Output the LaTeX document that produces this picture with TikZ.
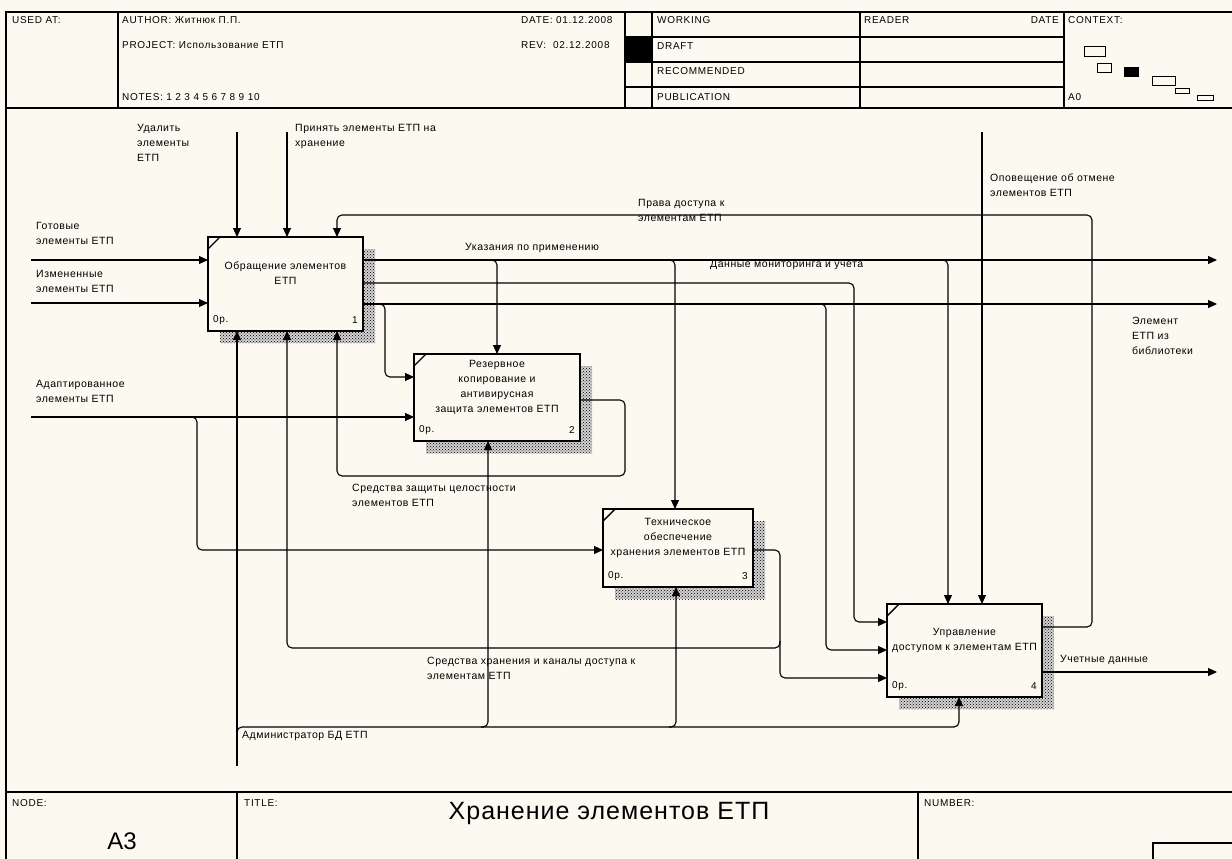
\documentclass[tikz,border=0pt]{standalone}
\usepackage{fontspec}
\setmainfont{Liberation Sans}
\newfontfamily\lblfont[LetterSpace=5]{Liberation Sans}
\newfontfamily\hdrfont[LetterSpace=7]{Liberation Sans}
\newfontfamily\ttlfont[LetterSpace=4]{Liberation Sans}
\usetikzlibrary{arrows.meta,calc,patterns,backgrounds}
\definecolor{bgc}{RGB}{252,250,240}
\tikzset{
 box/.style={draw, line width=2.4pt, fill=bgc, inner sep=0pt, outer sep=0pt},
 conn/.style={line width=1.1pt, rounded corners=5pt},
 arr/.style={conn, -{Triangle[length=9pt,width=8pt]}},
 lbl/.style={font=\lblfont\fontsize{10.5}{15}\selectfont, inner sep=0pt, align=left, anchor=north west},
 btxt/.style={font=\lblfont\fontsize{10.5}{15}\selectfont, inner sep=0pt, align=center, anchor=north},
 hdr/.style={font=\hdrfont\fontsize{10}{11}\selectfont, inner sep=0pt, anchor=west},
 frm/.style={line width=1.2pt},
 shadbase/.style={fill=black!18},
 shad/.style={pattern=crosshatch dots, pattern color=black},
 cmark/.style={line width=1.4pt},
}
\begin{document}
\begin{tikzpicture}[x=1pt,y=-1pt]
\useasboundingbox (0,0) rectangle (1232,859);
% boxes
\node[box, minimum width=155pt, minimum height=94pt] (b1) at (285.5,284) {};
\node[box, minimum width=166pt, minimum height=87pt] (b2) at (497,397.5) {};
\node[box, minimum width=150pt, minimum height=78pt] (b3) at (678,548) {};
\node[box, minimum width=155pt, minimum height=93pt] (b4) at (964.5,650.5) {};
\begin{scope}[on background layer]
\fill[bgc] (0,0) rectangle (1232,859);
\foreach \b in {b1,b2,b3,b4}{
  \fill[shadbase] ($(\b.north west)+(12,12)$) rectangle ($(\b.south east)+(12,12)$);
  \fill[shad] ($(\b.north west)+(12,12)$) rectangle ($(\b.south east)+(12,12)$);
}
\end{scope}
\foreach \b in {b1,b2,b3,b4}{
  \draw[cmark] ($(\b.north west)+(0,12)$) -- ($(\b.north west)+(12,0)$);
}
% box texts
\node[btxt] (b1t) at (285.5,262) {Обращение элементов\\ЕТП};
\node[btxt] (b2t) at (497,360) {Резервное\\копирование и\\антивирусная\\защита элементов ЕТП};
\node[btxt] (b3t) at (678,518) {Техническое\\обеспечение\\хранения элементов ЕТП};
\node[btxt] (b4t) at (964.5,628) {Управление\\доступом к элементам ЕТП};
\node[hdr] (b1c) at ($(b1.south west)+(5,-11)$) {0р.};
\node[hdr, anchor=east] (b1n) at ($(b1.south east)+(-5,-11)$) {1};
\node[hdr] (b2c) at ($(b2.south west)+(5,-11)$) {0р.};
\node[hdr, anchor=east] (b2n) at ($(b2.south east)+(-5,-11)$) {2};
\node[hdr] (b3c) at ($(b3.south west)+(5,-11)$) {0р.};
\node[hdr, anchor=east] (b3n) at ($(b3.south east)+(-5,-11)$) {3};
\node[hdr] (b4c) at ($(b4.south west)+(5,-11)$) {0р.};
\node[hdr, anchor=east] (b4n) at ($(b4.south east)+(-5,-11)$) {4};
% free ends
\coordinate (tUd) at (237,132);
\coordinate (tPr) at (287,132);
\coordinate (tOp) at (982,132);
\coordinate (iGo) at (31,260);
\coordinate (iIz) at (31,303);
\coordinate (iAd) at (31,417);
\coordinate (oUk) at (1217,260);
\coordinate (oEl) at (1217,304);
\coordinate (oUch) at (1217,672);
\coordinate (mAd) at (237,766);
% connectors
\draw[arr] (tUd) -- (tUd |- b1.north);
\draw[arr] (tPr) -- (tPr |- b1.north);
\draw[arr] (tOp) -- (tOp |- b4.north);
\draw[arr] (iGo) -- (iGo -| b1.west);
\draw[arr] (iIz) -- (iIz -| b1.west);
\draw[arr] (iAd) -- (iAd -| b2.west);
\draw[arr] (b1.east |- 0,260) -- (oUk);
\draw[arr] (490,260) -- (497,260) -- (497,0 |- b2.north);
\draw[arr] (668,260) -- (675,260) -- (675,0 |- b3.north);
\draw[arr] (941,260) -- (948,260) -- (948,0 |- b4.north);
\draw[arr] (b1.east |- 0,283) -- (854,283) -- (854,622) -- (b4.west |- 0,622);
\draw[arr] (b1.east |- 0,304) -- (oEl);
\draw[arr] (378,304) -- (385,304) -- (385,377) -- (b2.west |- 0,377);
\draw[arr] (819,304) -- (826,304) -- (826,650) -- (b4.west |- 0,650);
\draw[arr] (190,417) -- (197,417) -- (197,550) -- (b3.west |- 0,550);
\draw[arr] (b2.east |- 0,400) -- (625,400) -- (625,476) -- (337,476) -- (337,0 |- b1.south);
\draw[arr] (b3.east |- 0,550) -- (780,550) -- (780,678) -- (b4.west |- 0,678);
\draw[arr] (780,641) -- (780,648) -- (287,648) -- (287,0 |- b1.south);
\draw[arr] (b4.east |- 0,627) -- (1092,627) -- (1092,215) -- (337,215) -- (337,0 |- b1.north);
\draw[arr] (b4.east |- 0,672) -- (oUch);
\draw[arr] (mAd) -- (237,0 |- b1.south);
\draw[arr] (237,734) -- (237,727) -- (959,727) -- (959,0 |- b4.south);
\draw[arr] (481,727) -- (488,727) -- (488,0 |- b2.south);
\draw[arr] (669,727) -- (676,727) -- (676,0 |- b3.south);
% labels
\node[lbl] (lUd) at (137,124) {Удалить\\элементы\\ЕТП};
\node[lbl] (lPr) at (295,124) {Принять элементы ЕТП на\\хранение};
\node[lbl] (lGo) at (36,222) {Готовые\\элементы ЕТП};
\node[lbl] (lIz) at (36,270) {Измененные\\элементы ЕТП};
\node[lbl] (lAd) at (36,380) {Адаптированное\\элементы ЕТП};
\node[lbl] (lPd) at (638,199) {Права доступа к\\элементам ЕТП};
\node[lbl] (lUk) at (465,243) {Указания по применению};
\node[lbl] (lDm) at (710,260) {Данные мониторинга и учета};
\node[lbl] (lOp) at (990,174) {Оповещение об отмене\\элементов ЕТП};
\node[lbl] (lEl) at (1132,317) {Элемент\\ЕТП из\\библиотеки};
\node[lbl] (lSz) at (352,484) {Средства защиты целостности\\элементов ЕТП};
\node[lbl] (lSh) at (427,657) {Средства хранения и каналы доступа к\\элементам ЕТП};
\node[lbl] (lUch) at (1060,655) {Учетные данные};
\node[lbl] (lAdm) at (242,731) {Администратор БД ЕТП};
% header frame
\draw[frm] (6,859) -- (6,12) -- (1232,12);
\draw[frm] (6,108) -- (1232,108);
\draw[frm] (118,12) -- (118,108);
\draw[frm] (625,12) -- (625,108);
\draw[frm] (652,12) -- (652,108);
\draw[frm] (860,12) -- (860,108);
\draw[frm] (1064,12) -- (1064,108);
\draw[frm] (625,37) -- (1064,37);
\draw[frm] (625,62) -- (1064,62);
\draw[frm] (625,87) -- (1064,87);
\fill (625,37) rectangle (652,62);
\node[hdr] (hU) at (12,20) {USED AT:};
\node[hdr] (hA) at (122,20) {AUTHOR: Житнюк П.П.};
\node[hdr] (hP) at (122,45) {PROJECT: Использование ЕТП};
\node[hdr] (hN) at (122,97) {NOTES: 1 2 3 4 5 6 7 8 9 10};
\node[hdr] (hD) at (521,20) {DATE: 01.12.2008};
\node[hdr] (hR) at (521,45) {REV: \ 02.12.2008};
\node[hdr] (hW) at (657,20) {WORKING};
\node[hdr] (hDr) at (657,46) {DRAFT};
\node[hdr] (hRe) at (657,71) {RECOMMENDED};
\node[hdr] (hPu) at (657,97) {PUBLICATION};
\node[hdr] (hRd) at (864,20) {READER};
\node[hdr, anchor=east] (hDt) at (1059,20) {DATE};
\node[hdr] (hC) at (1068,20) {CONTEXT:};
\node[hdr] (hA0) at (1068,97) {A0};
% context thumbnails
\draw[line width=0.9pt] (1084,46) rectangle (1105,56);
\draw[line width=0.9pt] (1097,63) rectangle (1111,72);
\fill (1124,67) rectangle (1139,77);
\draw[line width=0.9pt] (1152,76) rectangle (1175,85);
\draw[line width=0.9pt] (1175,88) rectangle (1189,93);
\draw[line width=0.9pt] (1197,95) rectangle (1213,100);
% footer
\draw[frm] (6,792) -- (1232,792);
\draw[frm] (237,792) -- (237,859);
\draw[frm] (918,792) -- (918,859);
\draw[frm] (1153,859) -- (1153,843) -- (1232,843);
\node[hdr] (fN) at (12,803) {NODE:};
\node[hdr] (fT) at (244,803) {TITLE:};
\node[hdr] (fNu) at (924,803) {NUMBER:};
\node[font=\ttlfont\fontsize{25}{28}\selectfont, inner sep=0pt, anchor=base] (title) at (609,819) {Хранение элементов ЕТП};
\node[font=\fontsize{24}{28}\selectfont, inner sep=0pt, anchor=base] (nid) at (122,849) {A3};
\end{tikzpicture}
\end{document}
